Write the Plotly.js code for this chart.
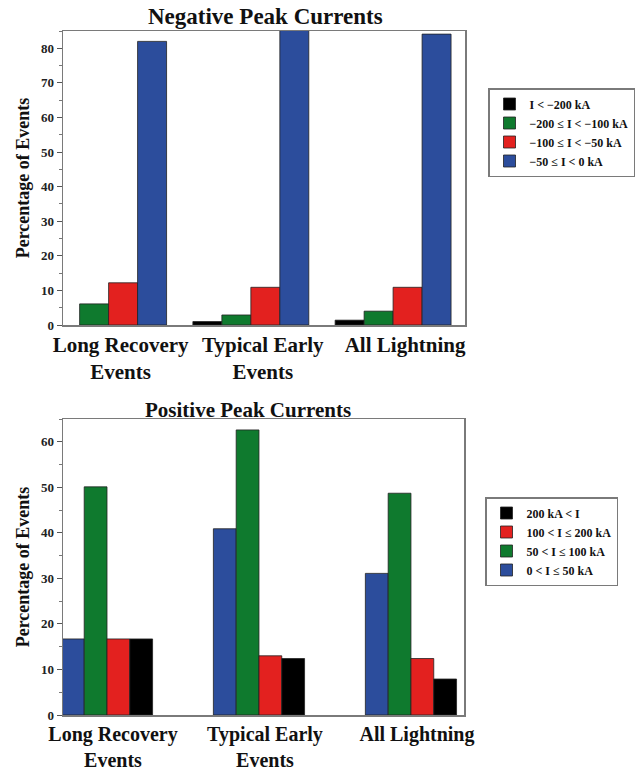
<!DOCTYPE html>
<html>
<head>
<meta charset="utf-8">
<script src="https://cdn.plot.ly/plotly-3.0.1.min.js"></script>
<style>html,body{margin:0;padding:0;background:#fff;}#chart{width:640px;height:770px;}</style>
</head>
<body>
<div id="chart"></div>
<script>
// ---- data ----
const categories = ["Long Recovery<br>Events", "Typical Early<br>Events", "All Lightning"];

// Negative peak currents (% of events)
const negLabels = ["I < \u2212200 kA", "\u2212200 \u2264 I < \u2212100 kA", "\u2212100 \u2264 I < \u221250 kA", "\u221250 \u2264 I < 0 kA"];
const negBelow200 = [null, 1.0, 1.4];
const neg200to100 = [6.1, 2.9, 4.0];
const neg100to50 = [12.2, 10.9, 10.9];
const neg50to0 = [82.0, 86.0, 84.1];

// Positive peak currents (% of events)
const posLabels = ["0 < I \u2264 50 kA", "50 < I \u2264 100 kA", "100 < I \u2264 200 kA", "200 kA < I"];
const pos0to50 = [16.7, 40.9, 31.1];
const pos50to100 = [50.1, 62.6, 48.7];
const pos100to200 = [16.7, 13.0, 12.4];
const posAbove200 = [16.7, 12.4, 7.9];

// ---- styling ----
const BLACK = "#000000", GREEN = "#0f7a2e", RED = "#e3211f", BLUE = "#2c4d9c";
const FONT = "Liberation Serif, Times New Roman, serif";
const outline = {color: "#222222", width: 0.8};
const boldText = s => s.split("<br>").map(p => "<b>" + p + "</b>").join("<br>");

const negSeries = [negBelow200, neg200to100, neg100to50, neg50to0];
const negColors = [BLACK, GREEN, RED, BLUE];
const posSeries = [pos0to50, pos50to100, pos100to200, posAbove200];
const posColors = [BLUE, GREEN, RED, BLACK];

const traces = [];
negSeries.forEach((vals, i) => {
  traces.push({
    type: "bar", x: categories, y: vals, name: "<b>" + negLabels[i] + "</b>",
    marker: {color: negColors[i], line: outline},
    xaxis: "x", yaxis: "y", legend: "legend", hoverinfo: "y"
  });
});
const posOffsets = [-0.3, -0.15, 0, 0.15];
posSeries.forEach((vals, i) => {
  traces.push({
    type: "bar", x: categories, y: vals, name: "<b>" + posLabels[i] + "</b>",
    marker: {color: posColors[i], line: outline},
    width: 0.15, offset: posOffsets[i],
    xaxis: "x2", yaxis: "y2", legend: "legend2", hoverinfo: "y"
  });
});

const axisLine = {showline: true, linecolor: "#7a7a7a", linewidth: 1.5, mirror: true};
const xCommon = Object.assign({}, axisLine, {
  type: "category", showgrid: false, zeroline: false, ticks: "",
  tickmode: "array", tickvals: categories, ticktext: categories.map(boldText),
  tickfont: {family: FONT, size: 21, color: "#111"}
});
const yCommon = Object.assign({}, axisLine, {
  showgrid: false, zeroline: false, ticks: "outside", ticklen: 5, tickcolor: "#555",
  dtick: 10, minor: {dtick: 5, ticks: "outside", ticklen: 3, tickcolor: "#777"},
  tickfont: {family: FONT, size: 13, color: "#222", weight: "bold"},
  title: {text: "<b>Percentage of Events</b>", standoff: 6, font: {family: FONT, size: 18, color: "#111"}}
});

const legendCommon = {
  xanchor: "left", yanchor: "top", bgcolor: "#fff",
  bordercolor: "#7a7a7a", borderwidth: 1.5,
  font: {family: FONT, size: 12, color: "#111"}
};

const layout = {
  width: 640, height: 770,
  margin: {l: 0, r: 0, t: 0, b: 0},
  paper_bgcolor: "#fff", plot_bgcolor: "#fff",
  barmode: "group", bargap: 0.185, bargroupgap: 0,
  showlegend: true,
  xaxis: Object.assign({}, xCommon, {domain: [63/640, 465/640], anchor: "y", range: [-0.3206, 2.5055], ticklabelshift: 12}),
  yaxis: Object.assign({}, yCommon, {domain: [1 - 325/770, 1 - 31/770], anchor: "x", range: [0, 85]}),
  xaxis2: Object.assign({}, xCommon, {domain: [63/640, 464/640], anchor: "y2", range: [-0.2895, 2.349], ticklabelshift: 6,
    tickfont: {family: FONT, size: 20, color: "#111"}}),
  yaxis2: Object.assign({}, yCommon, {domain: [1 - 715/770, 1 - 419/770], anchor: "x2", range: [0, 65]}),
  legend: Object.assign({}, legendCommon, {x: 488/640, y: 1 - 88/770, traceorder: "normal"}),
  legend2: Object.assign({}, legendCommon, {x: 485/640, y: 1 - 497/770, traceorder: "reversed"}),
  annotations: [
    {text: "<b>Negative Peak Currents</b>", x: 265/640, y: 1 - 17/770, xref: "paper", yref: "paper",
     xanchor: "center", yanchor: "middle", showarrow: false,
     font: {family: FONT, size: 23, color: "#111"}},
    {text: "<b>Positive Peak Currents</b>", x: 248/640, y: 1 - 410/770, xref: "paper", yref: "paper",
     xanchor: "center", yanchor: "middle", showarrow: false,
     font: {family: FONT, size: 21, color: "#111"}}
  ]
};

Plotly.newPlot("chart", traces, layout, {displayModeBar: false, staticPlot: true});
</script>
</body>
</html>
